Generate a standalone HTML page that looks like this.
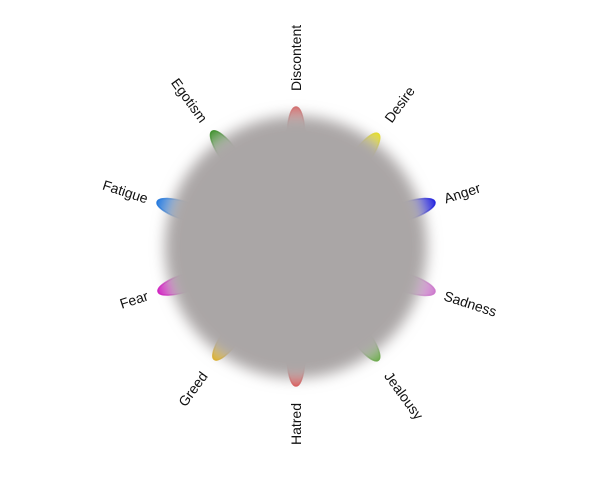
<!DOCTYPE html>
<html><head><meta charset="utf-8"><style>
html,body{margin:0;padding:0;background:#fff;}
svg{display:block;font-family:"Liberation Sans",sans-serif;}
</style></head><body>
<svg id="chart" width="601" height="481" viewBox="0 0 601 481">
<defs>
<filter id="blur" x="-30%" y="-30%" width="160%" height="160%"><feGaussianBlur stdDeviation="7"/></filter>
</defs>
<g id="petals"></g>
<circle cx="296" cy="247" r="131" fill="#aaa6a6" filter="url(#blur)"/>
<g id="labels"></g>
</svg>
<script>
const categories = ["Discontent","Desire","Anger","Sadness","Jealousy","Hatred","Greed","Fear","Fatigue","Egotism"];
const values = [140,140,146,146,140,139,139,145,146,143];
const colors = ["#d66a6a","#e8e020","#2222dd","#cc77cc","#66aa44","#dd5555","#e0b020","#d020c0","#2277dd","#3d8f2a"];

const cx=296, cy=247, labelR=156;
const svgNS="http://www.w3.org/2000/svg";
const defs=document.querySelector('defs');
const pg=document.getElementById('petals');
const lg=document.getElementById('labels');
const n=categories.length;
function ang(i){return i*360/n;}
categories.forEach((c,i)=>{
  const a=ang(i), r=values[i];
  const gid='g'+i;
  const grad=document.createElementNS(svgNS,'linearGradient');
  grad.setAttribute('id',gid);
  grad.setAttribute('gradientUnits','userSpaceOnUse');
  grad.setAttribute('x1',0);grad.setAttribute('y1',-r);
  grad.setAttribute('x2',0);grad.setAttribute('y2',-r+40);
  grad.innerHTML='<stop offset="0" stop-color="'+colors[i]+'" stop-opacity="0.95"/><stop offset="1" stop-color="'+colors[i]+'" stop-opacity="0"/>';
  defs.appendChild(grad);
  const g=document.createElementNS(svgNS,'g');
  g.setAttribute('transform','translate('+cx+','+cy+') rotate('+a+')');
  const e=document.createElementNS(svgNS,'ellipse');
  
  
  e.setAttribute('cx',0);e.setAttribute('cy',-(r-30));
  e.setAttribute('rx',9);e.setAttribute('ry',30);
  e.setAttribute('fill','url(#'+gid+')');
  e.setAttribute('stroke','url(#'+gid+')');
  e.setAttribute('stroke-width',1.5);
  g.appendChild(e);pg.appendChild(g);

  const dir=a-90;
  const rad=dir*Math.PI/180;
  const x=cx+labelR*Math.cos(rad), y=cy+labelR*Math.sin(rad);
  const left = a>=180;
  const rot = left ? dir-180 : dir;
  const t=document.createElementNS(svgNS,'text');
  
  
  t.setAttribute('x',x);t.setAttribute('y',y);
  t.setAttribute('font-size',14);
  t.setAttribute('fill','#111');
  t.setAttribute('dominant-baseline','central');
  t.setAttribute('text-anchor', left?'end':'start');
  t.setAttribute('transform','rotate('+rot+','+x+','+y+')');
  t.textContent=c;
  lg.appendChild(t);
});
</script>
</body></html>
